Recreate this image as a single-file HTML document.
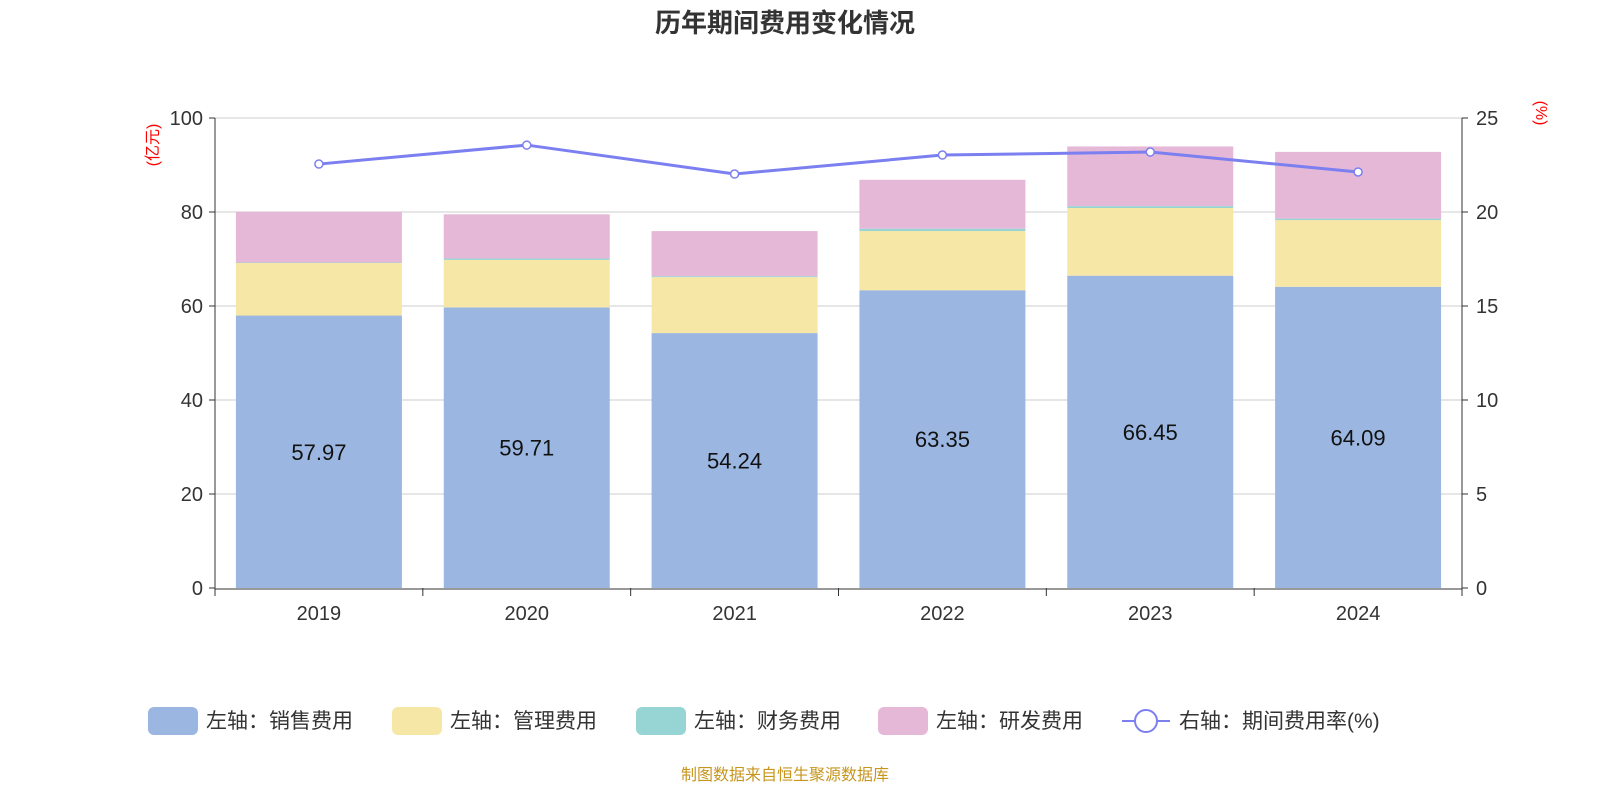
<!DOCTYPE html>
<html><head><meta charset="utf-8"><style>
html,body{margin:0;padding:0;background:#fff;}
svg text{font-family:"Liberation Sans","Noto Sans CJK SC",sans-serif;}
</style></head><body>
<svg id="chart" width="1600" height="800" viewBox="0 0 1600 800"></svg>
<script>
const years=['2019','2020','2021','2022','2023','2024'];
const sales=[57.97,59.71,54.24,63.35,66.45,64.09];
const mgmt=[11.18,10.1,11.9,12.6,14.4,14.2];
const fin=[0.1,0.3,0.2,0.5,0.4,0.3];
const rnd=[10.8,9.4,9.6,10.4,12.7,14.2];
const rate=[22.55,23.56,22.02,23.03,23.19,22.13];
const leftTicks=[0,20,40,60,80,100];
const rightTicks=[0,5,10,15,20,25];

const NS='http://www.w3.org/2000/svg';
const svg=document.getElementById('chart');
const X0=215,X1=1462,Y0=588,Y1=118;
const cw=(X1-X0)/years.length;
const yL=v=>Y0-(v/100)*(Y0-Y1);
const yR=v=>Y0-(v/25)*(Y0-Y1);
const xc=i=>X0+cw*(i+0.5);
function mk(tag,attrs,txt){const e=document.createElementNS(NS,tag);for(const k in attrs)e.setAttribute(k,attrs[k]);if(txt!=null)e.textContent=txt;svg.appendChild(e);return e;}

let t=mk('text',{x:785,y:32,'text-anchor':'middle','font-size':26,'font-weight':'bold',fill:'#333'},'历年期间费用变化情况');



leftTicks.forEach((v,i)=>{
  const y=yL(v);
  if(v>0){const g=mk('line',{x1:X0,x2:X1,y1:y,y2:y,stroke:'#ccc','stroke-width':1});
  
  }
  const l=mk('text',{x:203,y:y+7,'text-anchor':'end','font-size':20,fill:'#333'},v);
  
  
  mk('line',{x1:209,x2:215,y1:y,y2:y,stroke:'#333'});
});
rightTicks.forEach(v=>{
  const y=yR(v);
  const l=mk('text',{x:1476,y:y+7,'font-size':20,fill:'#333'},v);
  
  
  mk('line',{x1:1462,x2:1468,y1:y,y2:y,stroke:'#333'});
});
mk('line',{x1:X0,x2:X0,y1:Y1,y2:Y0,stroke:'#333'});
mk('line',{x1:X1,x2:X1,y1:Y1,y2:Y0,stroke:'#333'});

let lu=mk('text',{x:0,y:0,'font-size':16,fill:'red','text-anchor':'middle',transform:'translate(158,145) rotate(-90)'},'(亿元)');


let ru=mk('text',{x:0,y:0,'font-size':16,fill:'red','text-anchor':'middle',transform:'translate(1536,113) rotate(90)'},'(%)');



const series=[[sales,'#9bb7e1','sales'],[mgmt,'#f7e7a7','mgmt'],[fin,'#97d4d4','finance'],[rnd,'#e6b8d8','rnd']];
const bw=166;
years.forEach((yr,i)=>{
  let base=0;
  series.forEach(([arr,col,nm])=>{
    const top=base+arr[i];
    const r=mk('rect',{x:xc(i)-bw/2,y:yL(top),width:bw,height:yL(base)-yL(top),fill:col});
    
    
    base=top;
  });
  const v=mk('text',{x:xc(i),y:(yL(sales[i])+Y0)/2+8,'text-anchor':'middle','font-size':22,fill:'#111'},sales[i].toFixed(2));
  
  
  const xl=mk('text',{x:xc(i),y:620,'text-anchor':'middle','font-size':20,fill:'#333'},yr);
  
  
});
mk('line',{x1:X0,x2:X1,y1:Y0+1,y2:Y0+1,stroke:'#333'});
for(let i=0;i<=years.length;i++){mk('line',{x1:X0+cw*i,x2:X0+cw*i,y1:Y0,y2:Y0+8,stroke:'#333'});}

const pts=rate.map((v,i)=>xc(i)+','+yR(v)).join(' ');
const pl=mk('polyline',{points:pts,fill:'none',stroke:'#7b7ff0','stroke-width':3});


rate.forEach((v,i)=>{
  const c=mk('circle',{cx:xc(i),cy:yR(v),r:4,fill:'#fff',stroke:'#7b7ff0','stroke-width':1.5});
  
  
});

const leg=[['销售费用','#9bb7e1',148],['管理费用','#f7e7a7',392],['财务费用','#97d4d4',636],['研发费用','#e6b8d8',878]];
leg.forEach(([n,c,x])=>{
  const r=mk('rect',{x:x,y:707,width:50,height:28,rx:6,fill:c});
  
  
  const tx=mk('text',{x:x+58,y:728,'font-size':21,fill:'#333'},'左轴：'+n);
  
  
});
mk('line',{x1:1122,x2:1170,y1:721,y2:721,stroke:'#7b7ff0','stroke-width':2});
let lc=mk('circle',{cx:1146,cy:721,r:11,fill:'#fff',stroke:'#7b7ff0','stroke-width':2});


let lt=mk('text',{x:1179,y:728,'font-size':21,fill:'#333'},'右轴：期间费用率(%)');



let src=mk('text',{x:785,y:780,'text-anchor':'middle','font-size':16,fill:'#c8961e'},'制图数据来自恒生聚源数据库');


</script>
</body></html>
